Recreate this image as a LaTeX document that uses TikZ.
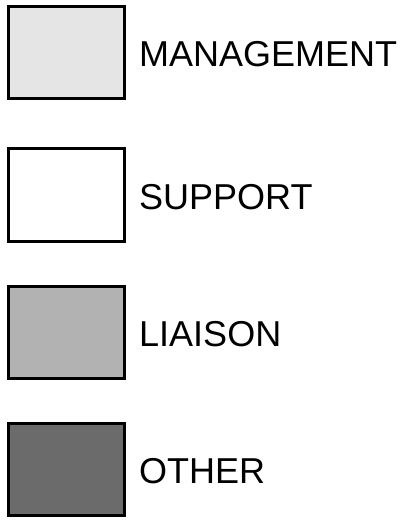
\documentclass[tikz,border=0pt]{standalone}
\usepackage{fontspec}
\setmainfont{Liberation Sans}
\usetikzlibrary{positioning}
\tikzset{
    keybox/.style={draw=black, line width=3pt, minimum width=116pt, minimum height=92pt, inner sep=0pt},
    keylabel/.style={inner sep=0pt, anchor=west, yshift=-2pt, font=\fontsize{36}{40}\selectfont}
}

\begin{document}
\begin{tikzpicture}
    \useasboundingbox[fill=white] (0,0) rectangle (401pt,-521pt);

    % legend boxes
    \node[keybox, fill=black!10] (mgmt) at (66.5pt,-52.5pt) {};
    \node[keybox, fill=white] (supp) at (66.5pt,-195pt) {};
    \node[keybox, fill=black!30] (liai) at (66.5pt,-332.5pt) {};
    \node[keybox, fill=black!58] (othr) at (66.5pt,-469pt) {};

    % labels
    \node[keylabel, right=13pt of mgmt] (mgmtlabel) {MANAGEMENT};
    \node[keylabel, right=13pt of supp] (supplabel) {SUPPORT};
    \node[keylabel, right=13pt of liai] (liailabel) {LIAISON};
    \node[keylabel, right=13pt of othr] (othrlabel) {OTHER};
\end{tikzpicture}
\end{document}
